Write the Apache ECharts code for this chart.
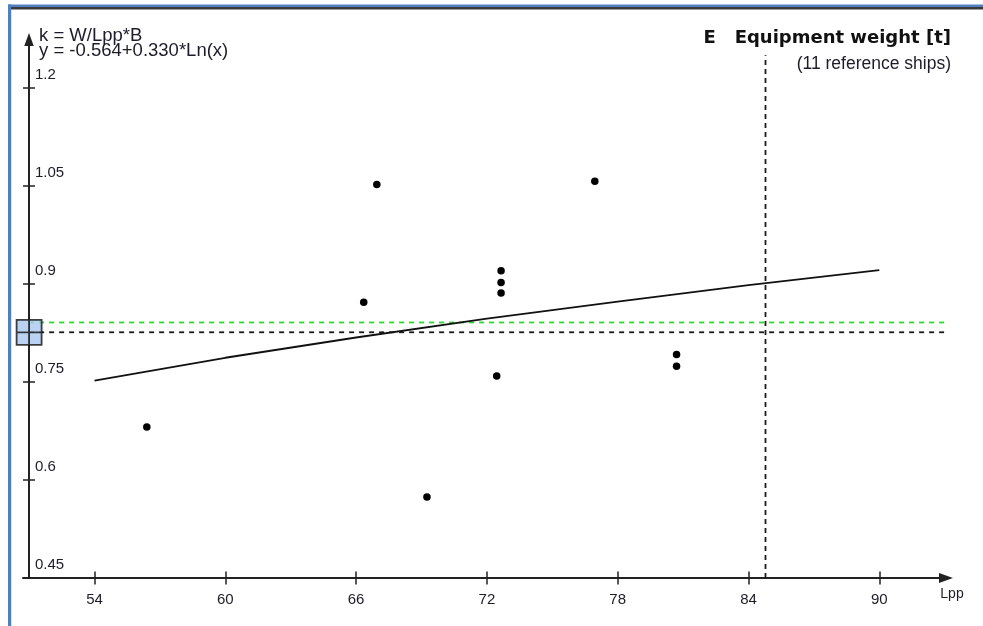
<!DOCTYPE html>
<html>
<head>
<meta charset="utf-8">
<script src="https://cdn.jsdelivr.net/npm/echarts@6/dist/echarts.min.js"></script>
<style>html,body{margin:0;padding:0;background:#fff}#c{width:983px;height:626px}</style>
</head>
<body>
<div id="c"></div>
<script>
// ---- data ----
const shipLpp = [56.4, 66.35, 66.95, 69.25, 72.45, 72.65, 72.65, 72.65, 76.95, 80.7, 80.7];
const shipK   = [0.681, 0.872, 1.052, 0.574, 0.759, 0.886, 0.902, 0.920, 1.057, 0.774, 0.792];
const fitLpp  = [54, 60, 66, 72, 78, 84, 90];
const fitK    = [0.752, 0.787, 0.818, 0.847, 0.873, 0.898, 0.921];
const xTicks  = [54, 60, 66, 72, 78, 84, 90];
const yTicks  = [0.45, 0.6, 0.75, 0.9, 1.05, 1.2];
const xRange  = [50.72, 93.06];
const yRange  = [0.45, 1.274];
const axisLppAtYAxis = 51.0;
const designLpp = 84.78;
const designK   = 0.826;
const greenK    = 0.841;
const vLineTopK = 1.25;
const titleText   = 'E   Equipment weight [t]';
const subText     = '(11 reference ships)';
const formulaText = ['k = W/Lpp*B', 'y = -0.564+0.330*Ln(x)'];
const xName = 'Lpp';

const chart = echarts.init(document.getElementById('c'), null, {renderer: 'canvas'});
const axisCol = '#222';
const txtCol = '#1c1c2c';
const reg = 'Liberation Sans';
const gridPos = {left: 23, right: 37, top: 39.5, bottom: 48};

const option = {
  animation: false,
  backgroundColor: '#fff',
  title: [
    {text: titleText, right: 32, top: 29.5, padding: 0,
     textStyle: {fontFamily: 'DejaVu Sans', fontWeight: 'bold', fontSize: 18, color: '#111'}},
    {text: subText, right: 32, top: 55, padding: 0,
     textStyle: {fontFamily: reg, fontWeight: 'normal', fontSize: 17.5, color: txtCol}},
    {text: formulaText.join('\n'), left: 39, top: 28, padding: 0,
     textStyle: {fontFamily: reg, fontWeight: 'normal', fontSize: 18.5, lineHeight: 15, color: txtCol}}
  ],
  grid: [Object.assign({}, gridPos), Object.assign({}, gridPos)],
  xAxis: [
    {type: 'value', gridIndex: 0, min: xRange[0], max: xRange[1],
     name: xName, nameLocation: 'end', nameGap: 6,
     nameTextStyle: {fontFamily: reg, fontSize: 14, color: txtCol, align: 'center', verticalAlign: 'top', padding: [9, 0, 0, 0]},
     axisLine: {show: true, symbol: ['none', 'triangle'], symbolSize: [10, 14], lineStyle: {color: axisCol, width: 2}},
     axisTick: {show: true, length: 6.5, customValues: xTicks, lineStyle: {color: axisCol, width: 1.5}},
     axisLabel: {show: true, customValues: xTicks, margin: 14.5, fontFamily: reg, fontSize: 15, color: txtCol},
     splitLine: {show: false}},
    {type: 'value', gridIndex: 1, min: xRange[0], max: xRange[1],
     axisLine: {show: false},
     axisTick: {show: true, inside: true, length: 6.5, customValues: xTicks, lineStyle: {color: axisCol, width: 1.5}},
     axisLabel: {show: false}, splitLine: {show: false}}
  ],
  yAxis: [
    {type: 'value', gridIndex: 0, min: yRange[0], max: yRange[1], offset: -6,
     axisLine: {show: true, symbol: ['none', 'triangle'], symbolSize: [9.5, 13], lineStyle: {color: axisCol, width: 2}},
     axisTick: {show: true, length: 6, customValues: yTicks, lineStyle: {color: axisCol, width: 1.5}},
     axisLabel: {show: true, inside: true, customValues: yTicks, margin: 6, fontFamily: reg, fontSize: 15, color: txtCol,
                 verticalAlign: 'bottom', padding: [0, 0, 5.5, 0]},
     splitLine: {show: false}},
    {type: 'value', gridIndex: 1, min: yRange[0], max: yRange[1], offset: -6,
     axisLine: {show: false},
     axisTick: {show: true, inside: true, length: 6, customValues: yTicks, lineStyle: {color: axisCol, width: 1.5}},
     axisLabel: {show: false}, splitLine: {show: false}}
  ],
  series: [
    {type: 'line', name: 'green', data: [[axisLppAtYAxis, greenK], [xRange[1], greenK]], symbol: 'none',
     lineStyle: {color: '#22e022', width: 1.8, type: [5, 5]}, z: 2, silent: true},
    {type: 'line', name: 'hdash', data: [[axisLppAtYAxis, designK], [xRange[1], designK]], symbol: 'none',
     lineStyle: {color: '#1a1a1a', width: 1.8, type: [5, 5]}, z: 2, silent: true},
    {type: 'line', name: 'vdash', data: [[designLpp, yRange[0]], [designLpp, vLineTopK]], symbol: 'none',
     lineStyle: {color: '#1a1a1a', width: 1.8, type: [5, 4]}, z: 2, silent: true},
    {type: 'line', name: 'fit', data: fitLpp.map((x, i) => [x, fitK[i]]), symbol: 'none',
     lineStyle: {color: '#111', width: 1.8}, z: 3, silent: true},
    {type: 'scatter', name: 'ships', data: shipLpp.map((x, i) => [x, shipK[i]]), symbol: 'circle', symbolSize: 7.5,
     itemStyle: {color: '#000', opacity: 1}, z: 4, silent: true},
    {type: 'scatter', name: 'design', data: [[axisLppAtYAxis, designK]],
     symbol: 'path://M0 0L24 0L24 24L0 24Z M0 12L24 12 M12 0L12 24', symbolSize: 25,
     itemStyle: {color: '#a9c8ef', borderColor: '#111', borderWidth: 1.8}, z: 6, silent: true}
  ],
  graphic: [
    {type: 'rect', shape: {x: 8, y: 4.5, width: 975, height: 2.5}, style: {fill: '#4f7fbf'}, z: 100},
    {type: 'rect', shape: {x: 11, y: 7, width: 972, height: 2.5}, style: {fill: '#3a3a3a'}, z: 100},
    {type: 'rect', shape: {x: 8, y: 4.5, width: 3.2, height: 622}, style: {fill: '#4f7fbf'}, z: 100}
  ]
};
chart.setOption(option);
</script>
</body>
</html>
